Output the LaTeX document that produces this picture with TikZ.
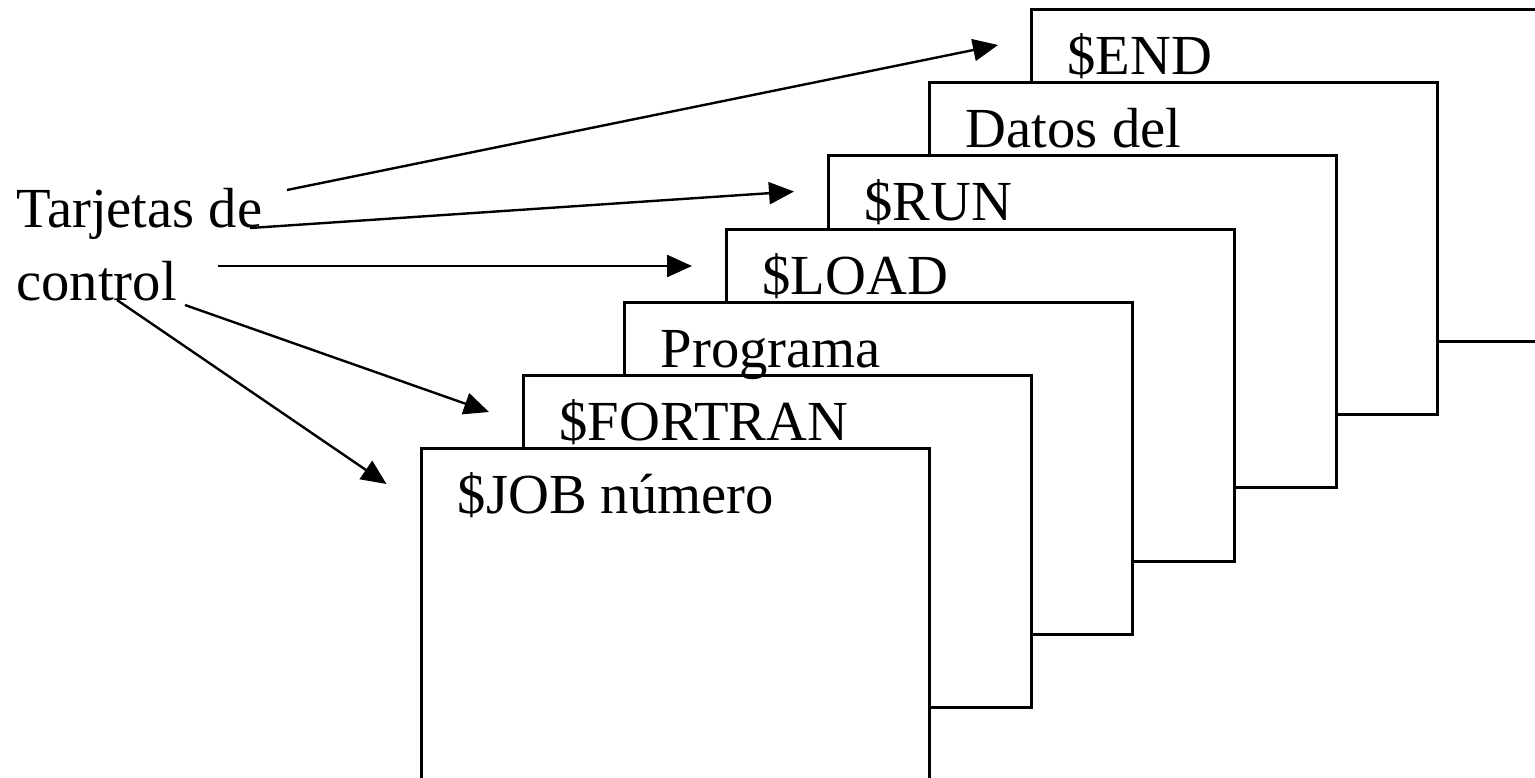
\documentclass[tikz,border=0pt]{standalone}
\usepackage{fontspec}
\setmainfont{Liberation Serif}
\usetikzlibrary{arrows.meta}
\usetikzlibrary{positioning}

\begin{document}
\begin{tikzpicture}[x=0.5pt,y=-0.5pt]
        \tikzset{card/.style={rectangle, draw=black, fill=white, line width=1.5pt,
                        anchor=north west, minimum width=254pt, minimum height=166pt,
                        inner sep=0pt, outer sep=0pt},
                cardtext/.style={anchor=base west, inner sep=0pt, font=\fontsize{28.3}{34}\selectfont},
                >={Triangle[length=12.5pt,width=11pt]},
                every edge/.style={draw=black, line width=1.2pt}}

        \useasboundingbox (0,0) rectangle (1535,777);

        % cards, back to front
        \node[card] (end) at (1031,9) {};
        \node[card] (datos) at (929.5,82) {};
        \node[card] (run) at (828,155.5) {};
        \node[card] (load) at (726,229) {};
        \node[card] (prog) at (624.5,302) {};
        \node[card] (fortran) at (523,375) {};
        \node[card] (job) at (421.5,448) {};

        \node[cardtext] (tend) at ([shift={(36,65)}]end.north west) {\$END};
        \node[cardtext] (tdatos) at ([shift={(36,65)}]datos.north west) {Datos del};
        \node[cardtext] (trun) at ([shift={(36,65)}]run.north west) {\$RUN};
        \node[cardtext] (tload) at ([shift={(36,65)}]load.north west) {\$LOAD};
        \node[cardtext] (tprog) at ([shift={(36,65)}]prog.north west) {Programa};
        \node[cardtext] (tfortran) at ([shift={(36,65)}]fortran.north west) {\$FORTRAN};
        \node[cardtext] (tjob) at ([shift={(36,65)}]job.north west) {\$JOB número};

        \node[cardtext] (tarj) at (16,227) {Tarjetas de};
        \node[cardtext] (ctrl) at (16,300) {control};

        % arrow ends
        \coordinate (s1) at (287,190);
        \coordinate (s2) at (250,228);
        \coordinate (s3) at (218,266);
        \coordinate (s4) at (185,305);
        \coordinate (s5) at (117,300);
        \coordinate (e1) at ([shift={(-33,36)}]end.north west);
        \coordinate (e2) at ([shift={(-34,36)}]run.north west);
        \coordinate (e3) at ([shift={(-34,37)}]load.north west);
        \coordinate (e4) at ([shift={(-34,37)}]fortran.north west);
        \coordinate (e5) at ([shift={(-35,36)}]job.north west);

        \path [->] (s1) edge (e1);
        \path [->] (s2) edge (e2);
        \path [->] (s3) edge (e3);
        \path [->] (s4) edge (e4);
        \path [->] (s5) edge (e5);

\end{tikzpicture}
\end{document}
